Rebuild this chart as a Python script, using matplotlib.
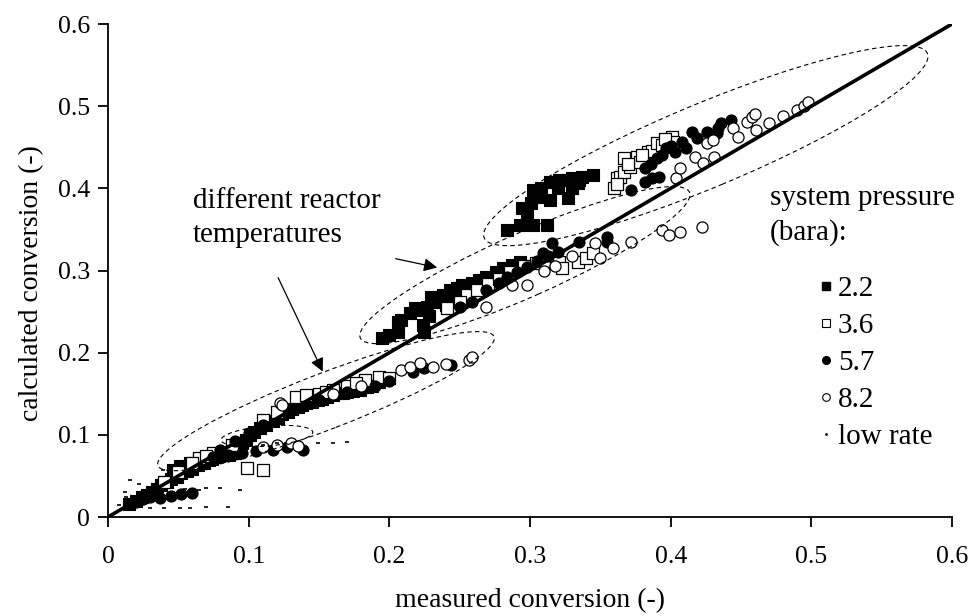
import numpy as np
import matplotlib.pyplot as plt
from matplotlib.patches import Ellipse
from matplotlib.transforms import ScaledTranslation
from matplotlib.lines import Line2D

plt.rcParams['font.family'] = ['Liberation Serif', 'DejaVu Serif']

# ---- data (measured vs calculated conversion) ----
p22_x = [0.015, 0.020, 0.024, 0.028, 0.031, 0.035, 0.038, 0.042, 0.045, 0.049, 0.052, 0.056,
         0.060, 0.064, 0.068, 0.072, 0.076, 0.080, 0.084, 0.088, 0.092, 0.095, 0.098, 0.101,
         0.104, 0.108, 0.112, 0.117, 0.121, 0.124, 0.128, 0.131, 0.135, 0.138, 0.141, 0.145,
         0.149, 0.152, 0.156, 0.160, 0.163, 0.167, 0.170, 0.174, 0.179, 0.184, 0.188, 0.193, 0.198,
         0.046, 0.051, 0.058, 0.065, 0.072, 0.079, 0.086, 0.066, 0.074, 0.082, 0.090,
         0.195, 0.200, 0.206, 0.206, 0.208, 0.215, 0.218, 0.223, 0.224, 0.227, 0.230, 0.235,
         0.238, 0.243, 0.248, 0.252, 0.256, 0.259, 0.264, 0.269, 0.276, 0.281, 0.287, 0.293,
         0.232, 0.245, 0.250, 0.262, 0.240, 0.228, 0.225,
         0.284, 0.293, 0.302, 0.312, 0.294, 0.301, 0.303, 0.314, 0.314, 0.320, 0.327, 0.327,
         0.330, 0.335, 0.337, 0.345, 0.302, 0.308, 0.321, 0.330, 0.334, 0.298, 0.306]
p22_y = [0.016, 0.020, 0.024, 0.027, 0.031, 0.034, 0.039, 0.042, 0.046, 0.049, 0.053, 0.056,
         0.059, 0.063, 0.066, 0.069, 0.073, 0.076, 0.079, 0.083, 0.086, 0.090, 0.094, 0.100,
         0.104, 0.108, 0.112, 0.117, 0.120, 0.125, 0.128, 0.131, 0.134, 0.136, 0.139, 0.140,
         0.142, 0.144, 0.146, 0.148, 0.151, 0.151, 0.152, 0.153, 0.155, 0.158, 0.160, 0.164, 0.168,
         0.057, 0.062, 0.066, 0.070, 0.072, 0.074, 0.076, 0.066, 0.070, 0.075, 0.078,
         0.218, 0.222, 0.237, 0.225, 0.240, 0.248, 0.254, 0.252, 0.234, 0.255, 0.268, 0.264,
         0.270, 0.276, 0.279, 0.282, 0.280, 0.285, 0.288, 0.292, 0.298, 0.303, 0.307, 0.310,
         0.262, 0.268, 0.272, 0.278, 0.258, 0.245, 0.225,
         0.349, 0.355, 0.355, 0.356, 0.376, 0.382, 0.394, 0.408, 0.386, 0.401, 0.388, 0.410,
         0.412, 0.410, 0.414, 0.416, 0.398, 0.401, 0.410, 0.401, 0.406, 0.370, 0.390]

p36_x = [0.360, 0.362, 0.364, 0.367, 0.367, 0.371, 0.376, 0.378, 0.384, 0.387, 0.390, 0.394,
         0.401, 0.402, 0.396, 0.380, 0.370, 0.362,
         0.241, 0.255, 0.262, 0.270, 0.278, 0.286, 0.296, 0.304, 0.316, 0.321, 0.323, 0.334,
         0.340, 0.345, 0.310, 0.250,
         0.134, 0.141, 0.150, 0.160, 0.170, 0.183, 0.193, 0.200, 0.176, 0.155, 0.120, 0.110,
         0.088, 0.075, 0.065, 0.060, 0.070, 0.099, 0.110, 0.050, 0.040]
p36_y = [0.400, 0.412, 0.414, 0.420, 0.437, 0.426, 0.438, 0.432, 0.444, 0.446, 0.455, 0.453,
         0.462, 0.456, 0.460, 0.440, 0.430, 0.405,
         0.254, 0.270, 0.276, 0.284, 0.290, 0.298, 0.305, 0.309, 0.309, 0.310, 0.303, 0.310,
         0.315, 0.321, 0.312, 0.262,
         0.146, 0.148, 0.150, 0.154, 0.160, 0.167, 0.170, 0.169, 0.163, 0.152, 0.128, 0.118,
         0.088, 0.078, 0.072, 0.066, 0.074, 0.060, 0.057, 0.055, 0.043]

p57_x = [0.372, 0.382, 0.387, 0.392, 0.382, 0.390, 0.394, 0.397, 0.403, 0.408, 0.411, 0.415,
         0.419, 0.426, 0.429, 0.434, 0.436, 0.443, 0.433, 0.400, 0.386,
         0.250, 0.259, 0.269, 0.278, 0.284, 0.291, 0.298, 0.305, 0.309, 0.316, 0.335, 0.355,
         0.355, 0.320, 0.313,
         0.217, 0.225, 0.244, 0.190, 0.200, 0.170, 0.150, 0.130, 0.117, 0.127, 0.139, 0.105,
         0.095, 0.085, 0.075, 0.060, 0.037, 0.030, 0.045, 0.052, 0.020, 0.025,
         0.110, 0.100, 0.090, 0.080]
p57_y = [0.398, 0.408, 0.412, 0.414, 0.425, 0.437, 0.440, 0.449, 0.444, 0.456, 0.449, 0.468,
         0.461, 0.468, 0.465, 0.474, 0.479, 0.483, 0.467, 0.452, 0.430,
         0.256, 0.262, 0.276, 0.285, 0.292, 0.298, 0.304, 0.312, 0.321, 0.333, 0.335, 0.341,
         0.335, 0.322, 0.318,
         0.176, 0.181, 0.185, 0.160, 0.165, 0.152, 0.142, 0.130, 0.082, 0.085, 0.082, 0.080,
         0.078, 0.076, 0.073, 0.029, 0.023, 0.024, 0.026, 0.028, 0.018, 0.022,
         0.112, 0.102, 0.092, 0.082]

p82_x = [0.404, 0.407, 0.417, 0.423, 0.431, 0.426, 0.430, 0.444, 0.448, 0.454, 0.458, 0.460,
         0.461, 0.470, 0.480, 0.490, 0.495, 0.498,
         0.269, 0.287, 0.298, 0.346, 0.350, 0.359, 0.372, 0.394, 0.399, 0.407, 0.422, 0.330,
         0.318, 0.310,
         0.122, 0.124, 0.208, 0.215, 0.222, 0.231, 0.240, 0.257, 0.259, 0.160, 0.180, 0.110,
         0.120, 0.130, 0.135]
p82_y = [0.412, 0.425, 0.438, 0.431, 0.438, 0.455, 0.459, 0.473, 0.462, 0.481, 0.487, 0.491,
         0.471, 0.480, 0.488, 0.495, 0.500, 0.505,
         0.256, 0.282, 0.282, 0.333, 0.315, 0.327, 0.335, 0.349, 0.343, 0.347, 0.353, 0.318,
         0.305, 0.300,
         0.139, 0.136, 0.179, 0.182, 0.187, 0.182, 0.186, 0.191, 0.195, 0.150, 0.160, 0.085,
         0.088, 0.090, 0.087]

low_x = [0.149, 0.160, 0.170, 0.080, 0.094, 0.051, 0.058, 0.030, 0.040, 0.020, 0.010, 0.005,
         0.039, 0.013, 0.016, 0.070, 0.065, 0.110, 0.120, 0.100, 0.018, 0.025, 0.070, 0.085,
         0.012, 0.022, 0.008, 0.045, 0.055]
low_y = [0.090, 0.090, 0.091, 0.035, 0.033, 0.011, 0.011, 0.011, 0.011, 0.012, 0.010, 0.005,
         0.057, 0.024, 0.045, 0.035, 0.033, 0.088, 0.090, 0.087, 0.018, 0.022, 0.012, 0.012,
         0.030, 0.040, 0.015, 0.030, 0.034]

ticks = [0, 0.1, 0.2, 0.3, 0.4, 0.5, 0.6]
tick_labels = ['0', '0.1', '0.2', '0.3', '0.4', '0.5', '0.6']

fig = plt.figure(figsize=(9.7, 6.16), dpi=100)
ax = fig.add_axes([0.1113, 0.1607, 0.8701, 0.8003])

ms = 64
ax.scatter(p22_x, p22_y, s=ms, marker='s', facecolor='black', edgecolor='black', lw=0.8, zorder=2)
ax.scatter(p36_x, p36_y, s=ms, marker='s', facecolor='white', edgecolor='black', lw=0.9, zorder=2)
ax.scatter(p57_x, p57_y, s=ms, marker='o', facecolor='black', edgecolor='black', lw=0.8, zorder=2)
ax.scatter(p82_x, p82_y, s=ms, marker='o', facecolor='white', edgecolor='black', lw=0.9, zorder=2)
ax.scatter(low_x, low_y, s=10, marker='_', color='black', lw=1.2, zorder=2)

# parity line
ax.plot([0, 0.6], [0, 0.6], color='black', lw=2.6, zorder=3)


# dashed rings round the temperature groups (sizes in pixels)
def ring(cx, cy, a, b, ang):
    tr = fig.dpi_scale_trans + ScaledTranslation(cx, cy, ax.transData)
    ax.add_patch(Ellipse((0, 0), 2 * a / 100, 2 * b / 100, angle=ang, transform=tr,
                         fill=False, ec='black', lw=0.8, ls=(0, (4, 3)), zorder=4))


ring(0.4250, 0.4520, 240, 42, 22.6)
ring(0.2964, 0.3066, 180, 32, 23.9)
ring(0.1550, 0.1410, 180, 28, 21.0)
ring(0.1130, 0.0985, 46, 10, 5.0)

# annotation
fig.text(193 / 970, 1 - 188 / 616, 'different reactor\ntemperatures', fontsize=21,
         va='top', ha='left', linespacing=1.42)
ax.annotate('', xy=(0.2360, 0.3029), xytext=(0.2026, 0.3151),
            arrowprops=dict(arrowstyle='-|>', color='black', lw=0.9, mutation_scale=20))
ax.annotate('', xy=(0.1535, 0.1740), xytext=(0.1201, 0.2944),
            arrowprops=dict(arrowstyle='-|>', color='black', lw=0.9, mutation_scale=20))

# legend
fig.text(770 / 970, 1 - 185 / 616, 'system pressure\n(bara):', fontsize=21,
         va='top', ha='left', linespacing=1.38)
handles = [
    Line2D([], [], ls='none', marker='s', mfc='black', mec='black', ms=5.5),
    Line2D([], [], ls='none', marker='s', mfc='white', mec='black', ms=5.5, mew=0.8),
    Line2D([], [], ls='none', marker='o', mfc='black', mec='black', ms=5.5),
    Line2D([], [], ls='none', marker='o', mfc='white', mec='black', ms=5.5, mew=0.8),
    Line2D([], [], ls='none', marker='.', color='black', ms=2),
]
ax.legend(handles, ['2.2', '3.6', '5.7', '8.2', 'low rate'], loc='upper left',
          bbox_to_anchor=(819 / 970, 1 - 276 / 616), bbox_transform=fig.transFigure,
          frameon=False, fontsize=21, handlelength=0.5, handletextpad=0.15,
          labelspacing=0.36, borderpad=0, borderaxespad=0)

ax.set_xlim(0, 0.6)
ax.set_ylim(0, 0.6)
ax.set_xticks(ticks)
ax.set_xticklabels(tick_labels)
ax.set_yticks(ticks)
ax.set_yticklabels(tick_labels)
ax.tick_params(direction='out', length=7, width=1.3, labelsize=18.5)
ax.tick_params(axis='x', pad=14)
ax.tick_params(axis='y', pad=6)
for s in ['top', 'right']:
    ax.spines[s].set_visible(False)
for s in ['left', 'bottom']:
    ax.spines[s].set_linewidth(1.3)

ax.set_xlabel('measured conversion (-)', fontsize=20)
ax.set_ylabel('calculated conversion (-)', fontsize=20)
ax.xaxis.set_label_coords(0.5, -0.144)
ax.yaxis.set_label_coords(-0.0758, 0.4746)

fig.savefig('out.png', dpi=100)
